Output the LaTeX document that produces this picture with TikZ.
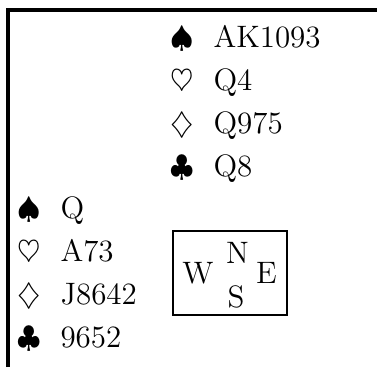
\documentclass[tikz,border=0pt]{standalone}
\usepackage{amssymb}
\usepackage{tikz}
\usetikzlibrary{positioning}

\begin{document}
\begin{tikzpicture}[
 x=0.4pt,y=0.4pt,
 every node/.style={font=\fontsize{12.4}{15}\selectfont,inner sep=0pt},
 suit/.style={anchor=base west},
 cards/.style={anchor=base west},
 frame/.style={line width=1.6pt},
 compass/.style={draw,line width=0.95pt,minimum width=45.6pt,minimum height=33.6pt}
]
\useasboundingbox (0,0) rectangle (377,-367);
% border
\coordinate (topright) at (377,-9.5);
\coordinate (corner) at (7.5,-9.5);
\coordinate (bottomleft) at (7.5,-367);
\draw[frame] (bottomleft) -- (corner) -- (topright);
% north hand
\node[suit] (ns) at (170,-47) {$\spadesuit$};
\node[cards] (nsc) at (213,-47) {AK1093};
\node[suit] (nh) at (170,-90) {$\heartsuit$};
\node[cards] (nhc) at (213,-90) {Q4};
\node[suit] (nd) at (170,-133) {$\diamondsuit$};
\node[cards] (ndc) at (213,-133) {Q975};
\node[suit] (nc) at (170,-176) {$\clubsuit$};
\node[cards] (ncc) at (213,-176) {Q8};
% west hand
\node[suit] (ws) at (17,-218) {$\spadesuit$};
\node[cards] (wsc) at (60,-218) {Q};
\node[suit] (wh) at (17,-261) {$\heartsuit$};
\node[cards] (whc) at (60,-261) {A73};
\node[suit] (wd) at (17,-304) {$\diamondsuit$};
\node[cards] (wdc) at (60,-304) {J8642};
\node[suit] (wc) at (17,-347) {$\clubsuit$};
\node[cards] (wcc) at (60,-347) {9652};
% compass
\node[compass] (table) at (230,-273) {};
\node (north) at (237.5,-252.5) {N};
\node (south) at (236,-296.5) {S};
\node (west) at (198,-273) {W};
\node (east) at (266.5,-273) {E};
\end{tikzpicture}
\end{document}
